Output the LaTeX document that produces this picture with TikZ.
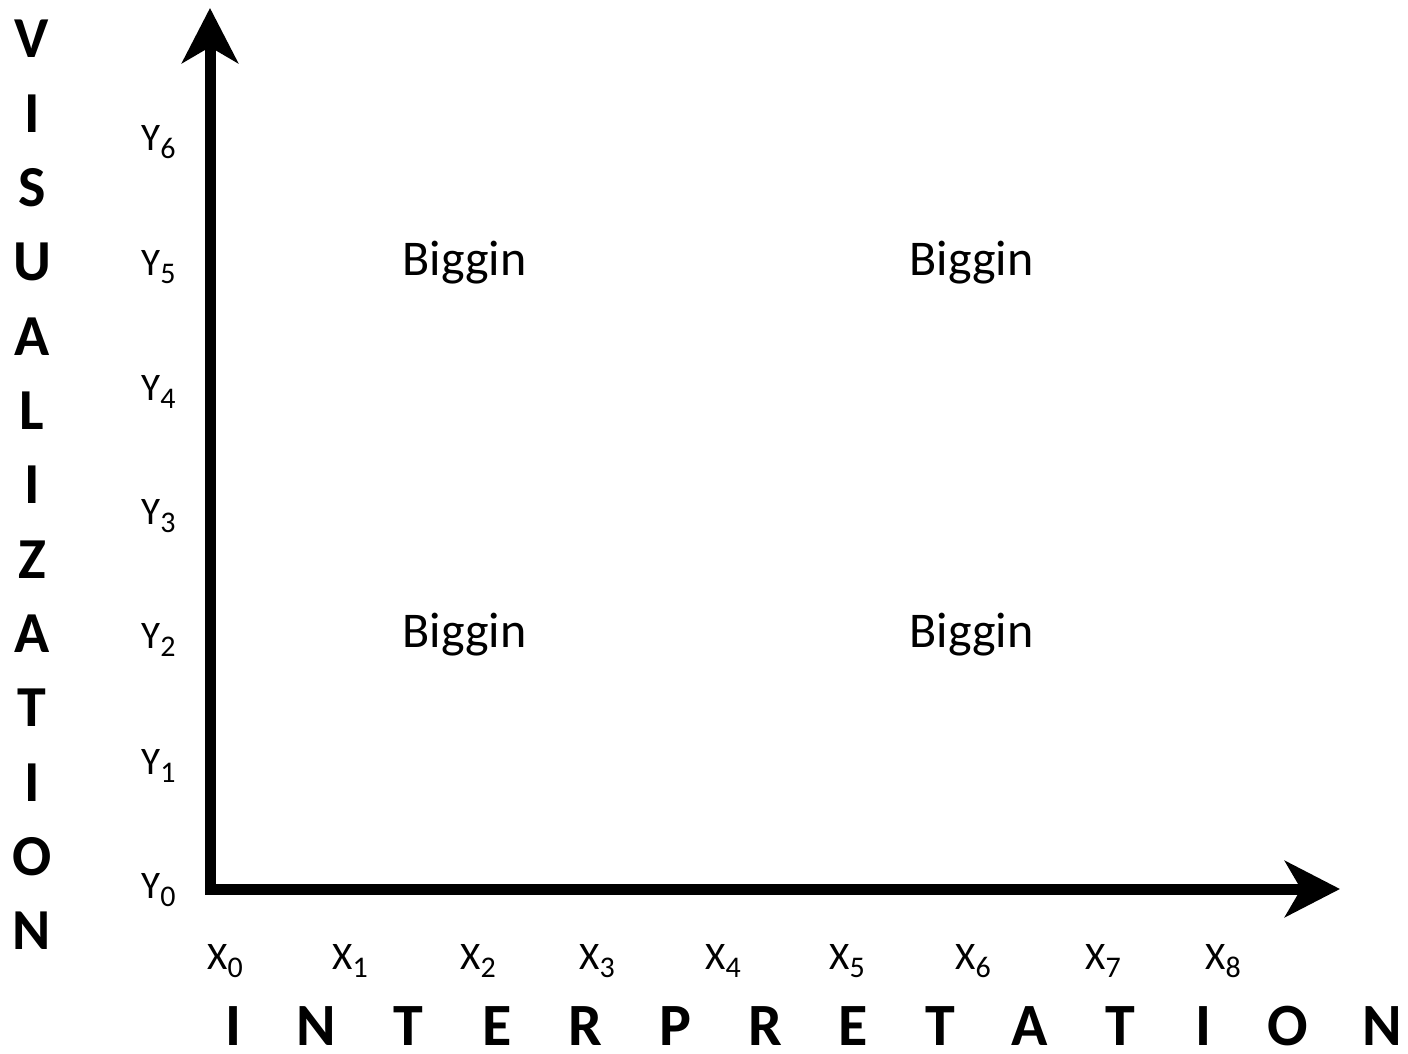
\documentclass[tikz,border=0pt]{standalone}
\usepackage{fontspec}
\setmainfont{Carlito}
\usetikzlibrary{arrows.meta}
\newcommand\sublab[2]{#1\raisebox{-0.22em}{\fontsize{15}{15}\selectfont #2}}
\tikzset{
  ticklab/.style={anchor=base west,inner sep=0pt,font=\fontsize{19.5}{20}\selectfont},
  bigtxt/.style={anchor=base west,inner sep=0pt,font=\fontsize{25}{26}\selectfont},
  sideletter/.style={anchor=base,inner sep=0pt,text depth=0pt,font=\fontsize{29}{30}\selectfont\bfseries},
  axisline/.style={line width=5.5pt,line join=miter,
    {Stealth[length=27.5pt,width=28pt,inset=8pt]}-{Stealth[length=27.5pt,width=28pt,inset=8pt]}}
}
\begin{document}
\begin{tikzpicture}[x=0.5pt,y=-0.5pt]
\useasboundingbox (0,0) rectangle (1408,1054);
\coordinate (ytip) at (210,8);
\coordinate (origin) at (210,889);
\coordinate (xtip) at (1340,889);
\draw[axisline] (ytip) -- (origin) -- (xtip);
% Y labels
\foreach \i/\yy in {6/150,5/275,4/400,3/524,2/648,1/774,0/898}{
  \node[ticklab] (y\i) at (141,\yy) {\sublab{Y}{\i}};
}
% X labels
\foreach \i/\xx in {0/207,1/332,2/460,3/579,4/705,5/829,6/955,7/1085,8/1205}{
  \node[ticklab] (x\i) at (\xx,969) {\sublab{X}{\i}};
}
% Biggin
\node[bigtxt] (b1) at (402,275) {Biggin};
\node[bigtxt] (b2) at (909,275) {Biggin};
\node[bigtxt] (b3) at (402,647) {Biggin};
\node[bigtxt] (b4) at (909,647) {Biggin};
% vertical word
\foreach \c [count=\k from 0] in {V,I,S,U,A,L,I,Z,A,T,I,O,N}{
  \node[sideletter] (v\k) at (32,{58+74.33*\k}) {\c};
}
% horizontal word
\foreach \c/\xx [count=\k from 0] in {I/233,N/316,T/408,E/497,R/585,P/675,R/765,E/853,T/940,A/1030,T/1120,I/1203,O/1288,N/1382}{
  \node[sideletter,font=\fontsize{30}{31}\selectfont\bfseries] (h\k) at (\xx,1045) {\c};
}
\end{tikzpicture}
\end{document}
